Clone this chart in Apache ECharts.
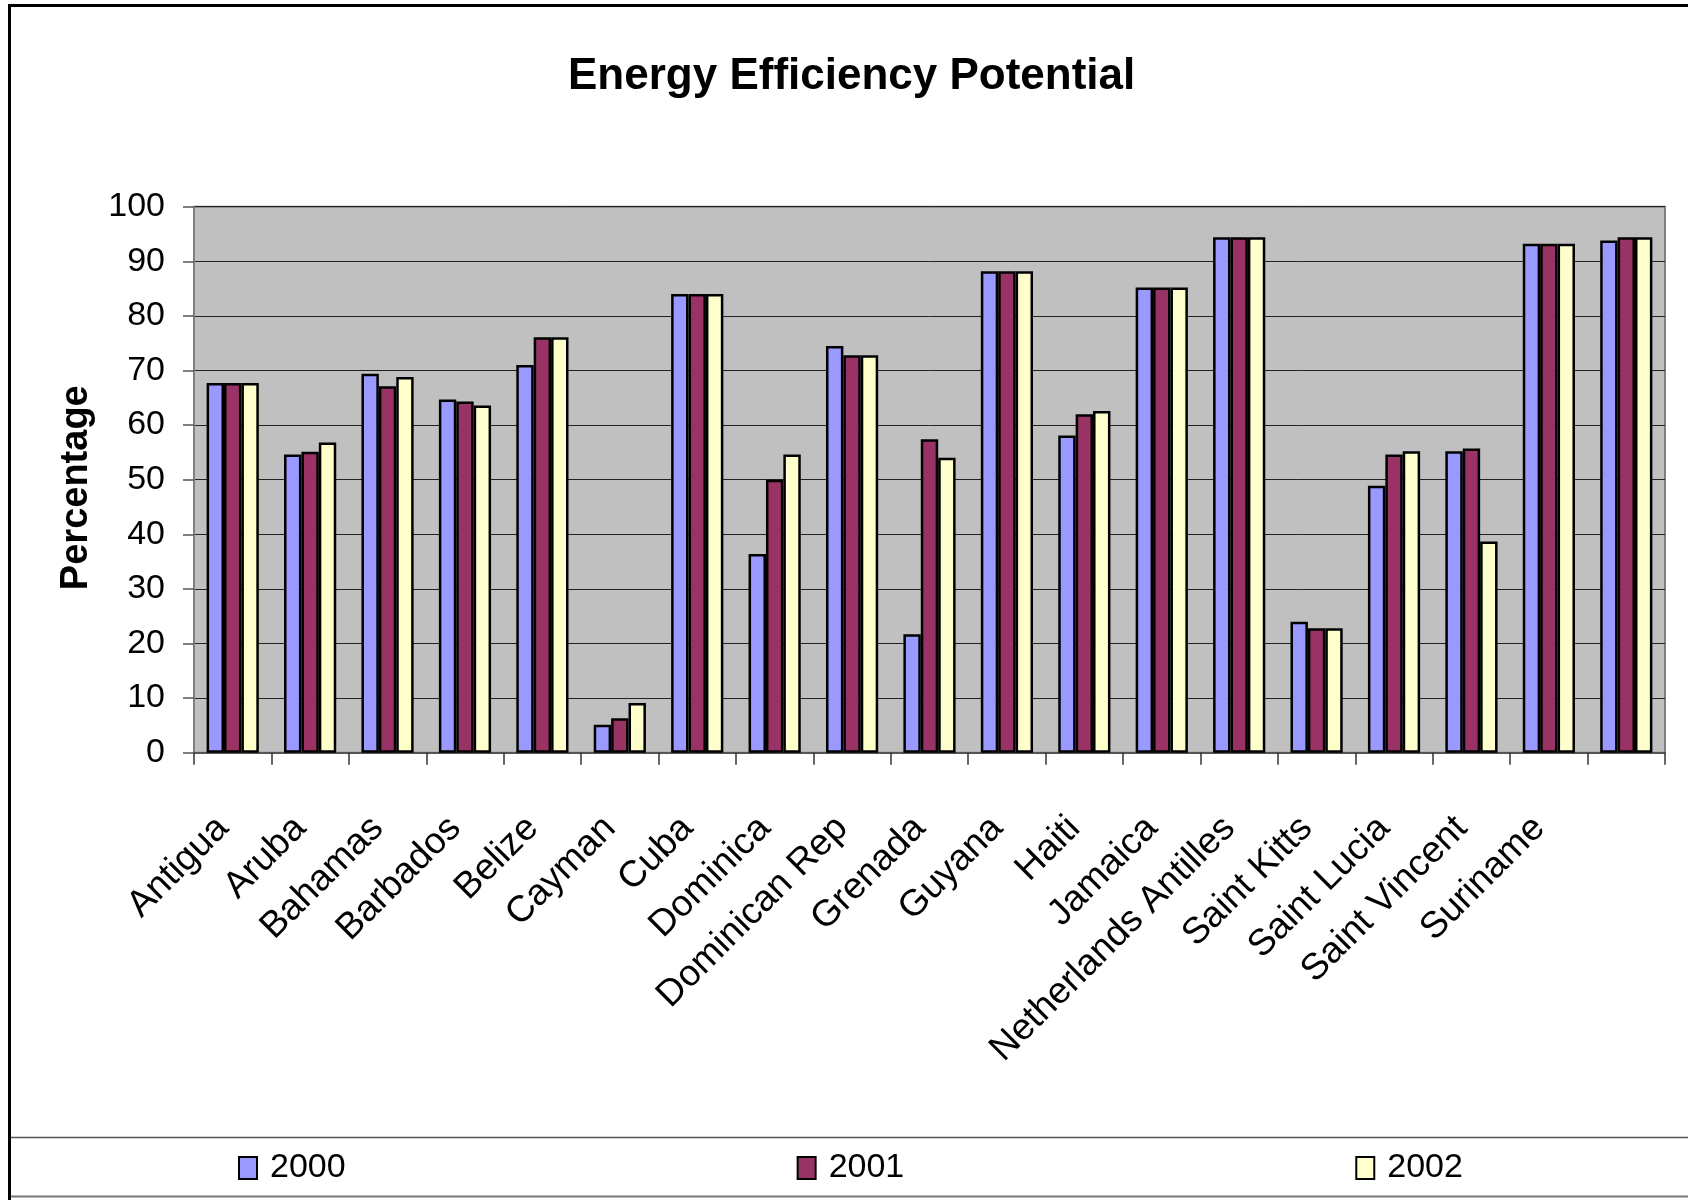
<!DOCTYPE html>
<html>
<head>
<meta charset="utf-8">
<script src="https://cdn.jsdelivr.net/npm/echarts@6/dist/echarts.min.js"></script>
<style>
html,body{margin:0;padding:0;background:#fff;}
#chart{width:1688px;height:1200px;}
</style>
</head>
<body>
<div id="chart"></div>
<script>
const categories = ['Antigua','Aruba','Bahamas','Barbados','Belize','Cayman','Cuba','Dominica','Dominican Rep','Grenada','Guyana','Haiti','Jamaica','Netherlands Antilles','Saint Kitts','Saint Lucia','Saint Vincent','Suriname',''];
const seriesNames = ['2000','2001','2002'];
const values2000 = [67.7,54.6,69.4,64.7,71.0,5.1,84.0,36.4,74.5,21.7,88.2,58.1,85.2,94.4,24.0,48.9,55.2,93.2,93.8];
const values2001 = [67.7,55.1,67.1,64.3,76.1,6.3,84.0,50.0,72.8,57.4,88.2,62.0,85.2,94.4,22.8,54.6,55.7,93.2,94.4];
const values2002 = [67.7,56.8,68.8,63.6,76.1,9.1,84.0,54.6,72.8,54.0,88.2,62.6,85.2,94.4,22.8,55.2,38.7,93.2,94.4];
const yTicks = [0,10,20,30,40,50,60,70,80,90,100];

const colors = ['#9999FF','#993366','#FFFFCC'];
const FONT = "'Liberation Sans', Arial, sans-serif";
const chart = echarts.init(document.getElementById('chart'), null, {renderer:'canvas'});

const allValues = [values2000, values2001, values2002];
const option = {
  backgroundColor: '#ffffff',
  animation: false,
  title: {
    text: 'Energy Efficiency Potential',
    left: 568,
    top: 55,
    padding: 0,
    textStyle: {fontFamily: FONT, fontWeight: 'bold', fontSize: 44, color: '#000'}
  },
  legend: {
    data: seriesNames,
    left: 238,
    top: 1151,
    padding: 0,
    itemWidth: 18,
    itemHeight: 22,
    itemGap: 451,
    icon: 'rect',
    itemStyle: {borderColor: '#000', borderWidth: 2},
    textStyle: {fontFamily: FONT, fontSize: 34, color: '#000', padding: [0,0,0,8]}
  },
  grid: {
    left: 194, right: 23, top: 206.7, bottom: 447.3,
    show: true,
    backgroundColor: '#C0C0C0',
    borderColor: '#808080',
    borderWidth: 2,
    containLabel: false
  },
  xAxis: {
    type: 'category',
    data: categories,
    boundaryGap: true,
    axisLine: {lineStyle: {color: '#555', width: 2}},
    axisTick: {show: true, length: 12, alignWithLabel: false, lineStyle: {color: '#333', width: 1.5}},
    axisLabel: {
      interval: 0, rotate: 45, margin: 60,
      padding: [0, 14, 0, 0],
      fontFamily: FONT, fontSize: 37, color: '#000'
    },
    splitLine: {show: false}
  },
  yAxis: {
    type: 'value',
    min: yTicks[0], max: yTicks[yTicks.length-1], interval: 10,
    name: 'Percentage',
    nameLocation: 'middle',
    nameGap: 98,
    nameTextStyle: {fontFamily: FONT, fontWeight: 'bold', fontSize: 38, color: '#000', padding: [0,16,0,0]},
    axisLine: {show: true, lineStyle: {color: '#808080', width: 2}},
    axisTick: {show: true, length: 11, lineStyle: {color: '#555', width: 1.5}},
    axisLabel: {margin: 29, fontFamily: FONT, fontSize: 34, color: '#000'},
    splitLine: {show: true, lineStyle: {color: '#222', width: 1}}
  },
  series: seriesNames.map((n, i) => ({
    name: n,
    type: 'bar',
    data: allValues[i],
    barWidth: 17.4,
    barGap: '0%',
    itemStyle: {color: colors[i], borderColor: '#000', borderWidth: 2.5}
  })),
  graphic: [
    {type: 'line', shape: {x1: 8, y1: 5.5, x2: 1688, y2: 5.5}, style: {stroke: '#000', lineWidth: 3}, z: 100},
    {type: 'line', shape: {x1: 9.5, y1: 4, x2: 9.5, y2: 1200}, style: {stroke: '#000', lineWidth: 3}, z: 100},
    {type: 'line', shape: {x1: 11, y1: 1137.5, x2: 1688, y2: 1137.5}, style: {stroke: '#555', lineWidth: 1.5}, z: 100},
    {type: 'line', shape: {x1: 11, y1: 1196.5, x2: 1688, y2: 1196.5}, style: {stroke: '#777', lineWidth: 2}, z: 100}
  ]
};
chart.setOption(option);
</script>
</body>
</html>
